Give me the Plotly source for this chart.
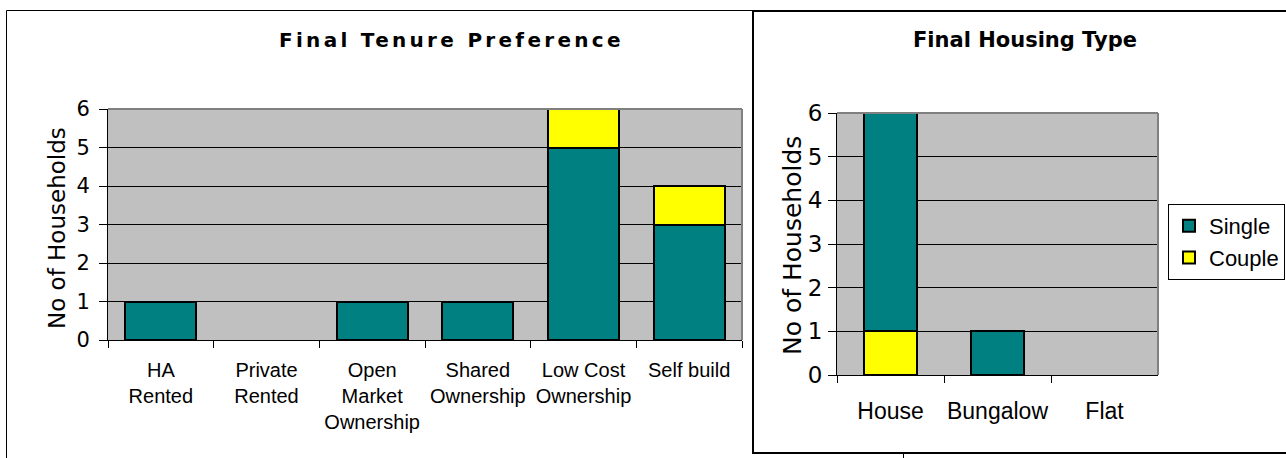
import plotly.graph_objects as go

# ---- data ----
tenure_categories = ["HA<br>Rented", "Private<br>Rented", "Open<br>Market<br>Ownership",
                     "Shared<br>Ownership", "Low Cost<br>Ownership", "Self build"]
tenure_single = [1, 0, 1, 1, 5, 3]
tenure_couple = [0, 0, 0, 0, 1, 1]

housing_categories = ["House", "Bungalow", "Flat"]
housing_couple = [1, 0, 0]
housing_single = [5, 1, 0]

y_ticks = [0, 1, 2, 3, 4, 5, 6]

TEAL = "#008080"
YELLOW = "#FFFF00"
PLOT_BG = "#C0C0C0"

W, H = 1286, 458


def px_x(v):
    return v / W


def px_y(v):
    return 1 - v / H


def outline(values):
    # empty segments get no outline so they leave no stray stroke
    return dict(color="black", width=[2 if v > 0 else 0 for v in values])


fig = go.Figure()

# left chart: single at the bottom, couple stacked above
fig.add_trace(go.Bar(x=tenure_categories, y=tenure_single, name="Single",
                     marker=dict(color=TEAL, line=outline(tenure_single)), width=0.67,
                     xaxis="x", yaxis="y", showlegend=False))
fig.add_trace(go.Bar(x=tenure_categories, y=tenure_couple, name="Couple",
                     marker=dict(color=YELLOW, line=outline(tenure_couple)), width=0.67,
                     xaxis="x", yaxis="y", showlegend=False))

# right chart: couple at the bottom, single stacked above
fig.add_trace(go.Bar(x=housing_categories, y=housing_couple, name="Couple",
                     marker=dict(color=YELLOW, line=outline(housing_couple)), width=0.5,
                     xaxis="x2", yaxis="y2", legendrank=2))
fig.add_trace(go.Bar(x=housing_categories, y=housing_single, name="Single",
                     marker=dict(color=TEAL, line=outline(housing_single)), width=0.5,
                     xaxis="x2", yaxis="y2", legendrank=1))

common_x = dict(type="category", showgrid=False, showline=True, linecolor="black",
                linewidth=1, ticks="outside", tickson="boundaries", ticklen=7,
                tickcolor="black", tickwidth=1, zeroline=False, tickangle=0)
common_y = dict(range=[0, 6], tickvals=y_ticks, showgrid=True, gridcolor="black",
                gridwidth=1, showline=True, linecolor="black", linewidth=1,
                ticks="outside", ticklen=8, tickcolor="black", tickwidth=1,
                zeroline=False)

fig.update_layout(
    width=W, height=H,
    margin=dict(l=0, r=0, t=0, b=0, autoexpand=False),
    paper_bgcolor="white",
    plot_bgcolor=PLOT_BG,
    barmode="stack",
    xaxis=dict(domain=[px_x(108), px_x(742)], anchor="y",
               tickfont=dict(family="Liberation Sans, Arial", size=20, color="black"),
               ticklabelstandoff=12, **common_x),
    yaxis=dict(domain=[px_y(340), px_y(109)], anchor="x",
               tickfont=dict(family="DejaVu Sans, Verdana", size=21, color="black"),
               ticklabelstandoff=5, **common_y),
    xaxis2=dict(domain=[px_x(837), px_x(1158)], anchor="y2",
                tickfont=dict(family="Liberation Sans, Arial", size=23, color="black"),
                ticklabelstandoff=15, **common_x),
    yaxis2=dict(domain=[px_y(375), px_y(113)], anchor="x2",
                tickfont=dict(family="DejaVu Sans, Verdana", size=23, color="black"),
                ticklabelstandoff=1, **common_y),
    legend=dict(x=px_x(1168), y=px_y(204), xanchor="left", yanchor="top",
                bgcolor="white", bordercolor="black", borderwidth=1,
                font=dict(family="Liberation Sans, Arial", size=22, color="black"),
                traceorder="normal", itemclick=False),
    showlegend=True,
)

frame = dict(color="black", width=1)

# left chart frame (its lower and right parts sit behind the right chart)
fig.add_shape(type="line", xref="paper", yref="paper",
              x0=px_x(6.5), x1=px_x(753), y0=px_y(10.5), y1=px_y(10.5), line=frame)
fig.add_shape(type="line", xref="paper", yref="paper",
              x0=px_x(6.5), x1=px_x(6.5), y0=px_y(10.5), y1=px_y(470), line=frame)
fig.add_shape(type="line", xref="paper", yref="paper",
              x0=px_x(903.5), x1=px_x(903.5), y0=px_y(454), y1=px_y(470), line=frame)

# right chart frame
fig.add_shape(type="rect", xref="paper", yref="paper",
              x0=px_x(753), x1=px_x(1300), y0=px_y(453), y1=px_y(11),
              line=dict(color="black", width=2))

# grey top and right edges of the plot areas
for xr, yr in (("x domain", "y domain"), ("x2 domain", "y2 domain")):
    fig.add_shape(type="line", xref=xr, yref=yr, x0=0, x1=1, y0=1, y1=1,
                  line=dict(color="#808080", width=2), layer="above")
    fig.add_shape(type="line", xref=xr, yref=yr, x0=1, x1=1, y0=0, y1=1,
                  line=dict(color="#808080", width=2), layer="above")

# titles
fig.add_annotation(text='<span style="letter-spacing:3.3px">Final Tenure Preference</span>',
                   xref="paper", yref="paper", x=px_x(452), y=px_y(40),
                   showarrow=False, xanchor="center", yanchor="middle",
                   font=dict(family="DejaVu Sans, Verdana", size=20, color="black", weight="bold"))
fig.add_annotation(text="Final Housing Type",
                   xref="paper", yref="paper", x=px_x(1025), y=px_y(40),
                   showarrow=False, xanchor="center", yanchor="middle",
                   font=dict(family="DejaVu Sans, Tahoma", size=21, color="black", weight="bold"))

# y-axis titles
fig.add_annotation(text="No of Households", textangle=-90,
                   xref="paper", yref="paper", x=px_x(57), y=px_y(228),
                   showarrow=False, xanchor="center", yanchor="middle",
                   font=dict(family="DejaVu Sans, Verdana", size=23, color="black"))
fig.add_annotation(text="No of Households", textangle=-90,
                   xref="paper", yref="paper", x=px_x(792), y=px_y(245),
                   showarrow=False, xanchor="center", yanchor="middle",
                   font=dict(family="DejaVu Sans, Verdana", size=25, color="black"))

fig.write_html("out.html")
